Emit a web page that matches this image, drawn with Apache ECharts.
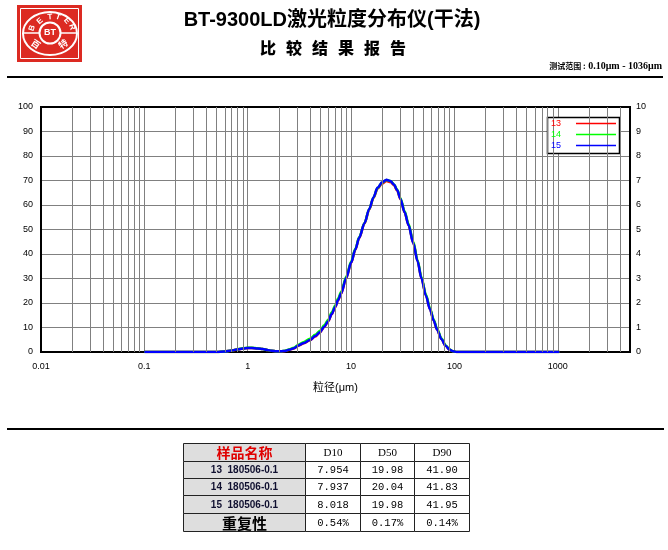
<!DOCTYPE html>
<html><head><meta charset="utf-8">
<script src="https://cdn.jsdelivr.net/npm/echarts@6/dist/echarts.min.js"></script>
<style>html,body{margin:0;padding:0;background:#fff}#c{width:668px;height:550px}</style>
</head><body><div id="c"></div>
<script>
// ---------- data ----------
const seriesNames = ['13', '14', '15'];
const seriesColors = ['#ff0000', '#00ff00', '#0000ff'];
const sizes = [0.1, 0.3, 0.5, 0.6, 0.7, 0.8, 0.9, 1.0, 1.1, 1.25,
  1.4, 1.55, 1.7, 1.9, 2.1, 2.3, 2.5, 2.8, 3.1, 3.5,
  4.0, 4.5, 5.0, 5.5, 6.0, 6.5, 7.0, 7.5, 8.0, 9.0,
  10, 11, 12, 13.5, 15, 16.5, 18, 20, 22, 24,
  26, 28, 30, 33, 36, 40, 44, 48, 53, 58,
  63, 68, 75, 82, 90, 97, 105, 120, 200, 500, 1036];
const s13 = [0, 0, 0, 0.2, 0.6, 1.0, 1.4, 1.6, 1.6, 1.4,
  1.2, 0.8, 0.5, 0.3, 0.25, 0.4, 0.85, 1.45, 2.6, 3.6,
  4.8, 6.3, 8.0, 10.2, 12.5, 15.4, 18.2, 21.1, 23.8, 30.2,
  36.3, 41.7, 46.6, 52.5, 58.2, 62.9, 66.6, 68.8, 69.8, 69.4,
  68.1, 65.8, 62.5, 57.0, 51.8, 44.6, 37.1, 30.1, 23.1, 17.5,
  12.9, 9.1, 5.2, 2.6, 0.9, 0.3, 0, 0, 0, 0, 0];
const s14 = [0, 0, 0, 0.2, 0.6, 1.1, 1.5, 1.7, 1.7, 1.5,
  1.2, 0.8, 0.5, 0.35, 0.3, 0.5, 1.0, 1.7, 3.0, 4.1,
  5.4, 7.0, 8.7, 10.9, 13.2, 16.1, 18.9, 21.8, 24.5, 30.8,
  36.8, 42.1, 46.9, 52.7, 58.4, 63.1, 66.9, 69.2, 70.2, 69.8,
  68.5, 66.2, 62.9, 57.4, 52.2, 45.0, 37.5, 30.5, 23.5, 17.9,
  13.3, 9.5, 5.5, 2.8, 1.0, 0.3, 0, 0, 0, 0, 0];
const s15 = [0, 0, 0, 0.2, 0.6, 1.1, 1.4, 1.6, 1.6, 1.4,
  1.2, 0.8, 0.5, 0.35, 0.3, 0.45, 0.9, 1.5, 2.7, 3.7,
  4.9, 6.5, 8.1, 10.3, 12.6, 15.5, 18.3, 21.2, 23.9, 30.3,
  36.4, 41.8, 46.7, 52.6, 58.4, 63.2, 67.0, 69.3, 70.3, 69.8,
  68.4, 66.0, 62.6, 57.0, 51.7, 44.5, 37.0, 30.0, 23.0, 17.4,
  12.9, 9.1, 5.2, 2.6, 0.9, 0.3, 0, 0, 0, 0, 0];
const seriesValues = [s13, s14, s15];

const titleText = 'BT-9300LD激光粒度分布仪(干法)';
const subTitleChars = ['比', '较', '结', '果', '报', '告'];
const rangeLabel = '测试范围 :';
const rangeValue = ' 0.10μm - 1036μm';
const xAxisName = '粒径(μm)';

const tableHeader = ['样品名称', 'D10', 'D50', 'D90'];
const sampleNames = ['13  180506-0.1', '14  180506-0.1', '15  180506-0.1'];
const d10 = ['7.954', '7.937', '8.018'];
const d50 = ['19.98', '20.04', '19.98'];
const d90 = ['41.90', '41.83', '41.95'];
const repeatLabel = '重复性';
const repeatVals = ['0.54%', '0.17%', '0.14%'];

// ---------- layout ----------
const G = {left: 41, top: 107, right: 630, bottom: 352};
const minorGrid = [];
for (let e = -2; e <= 3; e++) for (let m = 2; m <= 9; m++) {
  const v = +(m * Math.pow(10, e)).toPrecision(3);
  if (v < 5000) minorGrid.push(v);
}

const graphics = [];
// logo
const RED = '#dc2a22';
graphics.push({type: 'rect', shape: {x: 17, y: 5, width: 65, height: 57}, style: {fill: RED}});
graphics.push({type: 'rect', shape: {x: 20.5, y: 8.5, width: 58, height: 50}, style: {fill: null, stroke: '#fff', lineWidth: 1}});
graphics.push({type: 'ellipse', shape: {cx: 50, cy: 33.5, rx: 27, ry: 21.5}, style: {fill: null, stroke: '#fff', lineWidth: 2}});
graphics.push({type: 'circle', shape: {cx: 50, cy: 33, r: 10.5}, style: {fill: null, stroke: '#fff', lineWidth: 2}});
graphics.push({type: 'line', shape: {x1: 23, y1: 33, x2: 39.5, y2: 33}, style: {stroke: '#fff', lineWidth: 1.5}});
graphics.push({type: 'line', shape: {x1: 60.5, y1: 33, x2: 77, y2: 33}, style: {stroke: '#fff', lineWidth: 1.5}});
graphics.push({type: 'text', x: 50, y: 33, style: {text: 'BT', fill: '#fff', font: 'bold 9px "Liberation Sans"', align: 'center', verticalAlign: 'middle', textAlign: 'center', textVerticalAlign: 'middle'}});
const logoLetters = [['B', 32, 28, 72], ['E', 40, 21, 40], ['T', 50, 17, 5], ['T', 58, 17, -20], ['E', 67, 21, -50], ['R', 72, 27, -72]];
logoLetters.forEach(l => graphics.push({type: 'text', x: l[1], y: l[2], rotation: l[3] * Math.PI / 180,
  style: {text: l[0], fill: '#fff', font: 'bold 8px "Liberation Sans"', align: 'center', verticalAlign: 'middle', textAlign: 'center', textVerticalAlign: 'middle'}}));
graphics.push({type: 'text', x: 36, y: 44, rotation: -0.6, style: {text: '百', fill: '#fff', font: 'bold 9px "Noto Sans CJK SC"', align: 'center', verticalAlign: 'middle', textAlign: 'center', textVerticalAlign: 'middle'}});
graphics.push({type: 'text', x: 63, y: 44, rotation: 0.6, style: {text: '特', fill: '#fff', font: 'bold 9px "Noto Sans CJK SC"', align: 'center', verticalAlign: 'middle', textAlign: 'center', textVerticalAlign: 'middle'}});

// titles
graphics.push({type: 'text', x: 332, y: 20, style: {text: titleText, fill: '#000', font: 'bold 20px "Liberation Sans","Noto Sans CJK SC"', align: 'center', verticalAlign: 'middle', textAlign: 'center', textVerticalAlign: 'middle'}});
subTitleChars.forEach((c, i) => graphics.push({type: 'text', x: 268 + i * 26, y: 48,
  style: {text: c, fill: '#000', font: '900 16px "Noto Sans CJK SC"', align: 'center', verticalAlign: 'middle', textAlign: 'center', textVerticalAlign: 'middle'}}));
graphics.push({type: 'text', x: 662, y: 66, style: {text: '{a|' + rangeLabel + '}{b|' + rangeValue + '}', rich: {
  a: {font: 'bold 8px "Noto Sans CJK SC"', fill: '#000'},
  b: {font: 'bold 10px "Liberation Serif"', fill: '#000'}}, align: 'right', verticalAlign: 'middle', textAlign: 'right', textVerticalAlign: 'middle'}});
graphics.push({type: 'line', shape: {x1: 7, y1: 77, x2: 663, y2: 77}, style: {stroke: '#000', lineWidth: 2}});
graphics.push({type: 'line', shape: {x1: 7, y1: 429, x2: 664, y2: 429}, style: {stroke: '#000', lineWidth: 2}});

// plot frame (above gridlines, below curves)
graphics.push({type: 'rect', z: 1.5, shape: {x: G.left, y: G.top, width: G.right - G.left, height: G.bottom - G.top}, style: {fill: null, stroke: '#000', lineWidth: 2}});

// legend
graphics.push({type: 'rect', z: 5, shape: {x: 547.5, y: 117.5, width: 72, height: 36}, style: {fill: '#fff', stroke: '#000', lineWidth: 1.5}});
seriesNames.forEach((n, i) => {
  graphics.push({type: 'text', z: 6, x: 551, y: 123.5 + i * 11, style: {text: n, fill: seriesColors[i], font: '9px "Liberation Sans"', align: 'left', verticalAlign: 'middle', textAlign: 'left', textVerticalAlign: 'middle'}});
  graphics.push({type: 'line', z: 6, shape: {x1: 576, y1: 123.5 + i * 11, x2: 616, y2: 123.5 + i * 11}, style: {stroke: seriesColors[i], lineWidth: 1.5}});
});

// table
const colX = [183, 305, 360, 414, 469];
const rowY = [443, 461, 478, 495, 513, 531];
const rows = [tableHeader];
for (let i = 0; i < sampleNames.length; i++) rows.push([sampleNames[i], d10[i], d50[i], d90[i]]);
rows.push([repeatLabel].concat(repeatVals));
rows.forEach((row, r) => row.forEach((txt, c) => {
  const x = colX[c], y = rowY[r], w = colX[c + 1] - x, h = rowY[r + 1] - y;
  graphics.push({type: 'rect', shape: {x: x + 0.5, y: y + 0.5, width: w, height: h},
    style: {fill: c === 0 ? '#dedede' : '#fff', stroke: '#222', lineWidth: 1}});
  let font, fill = '#000';
  if (r === 0 && c === 0) { font = 'bold 14px "Noto Sans CJK SC"'; fill = '#e00000'; }
  else if (r === 0) { font = '11px "Liberation Serif"'; }
  else if (c === 0 && r === rows.length - 1) { font = 'bold 15px "Noto Sans CJK SC"'; }
  else if (c === 0) { font = 'bold 10px "Liberation Sans"'; fill = '#101030'; }
  else { font = '10.5px "Liberation Mono"'; }
  graphics.push({type: 'text', x: x + w / 2 + 0.5, y: y + h / 2 + 1, style: {text: txt, fill: fill, font: font,
    align: 'center', verticalAlign: 'middle', textAlign: 'center', textVerticalAlign: 'middle'}});
}));

const series = [{
  name: 'grid', type: 'line', z: 1, silent: true, symbol: 'none', data: [[0.01, 0]],
  lineStyle: {width: 0, opacity: 0},
  markLine: {silent: true, symbol: ['none', 'none'], label: {show: false}, animation: false,
    lineStyle: {color: '#808080', width: 1, type: 'solid'}, emphasis: {disabled: true},
    data: minorGrid.map(v => ({xAxis: v}))}
}];
seriesNames.forEach((n, i) => series.push({
  name: n, type: 'line', z: 2 + i, symbol: 'none', smooth: 0.3, smoothMonotone: 'x',
  lineStyle: {color: seriesColors[i], width: 2.5}, itemStyle: {color: seriesColors[i]},
  emphasis: {disabled: true},
  data: sizes.map((x, k) => [x, seriesValues[i][k]])
}));

const chart = echarts.init(document.getElementById('c'), null, {renderer: 'canvas'});
chart.setOption({
  animation: false,
  textStyle: {fontFamily: '"Liberation Sans","Noto Sans CJK SC",sans-serif'},
  grid: {left: G.left, top: G.top, right: 668 - G.right, bottom: 550 - G.bottom, show: false},
  xAxis: {
    type: 'log', logBase: 10, min: 0.01, max: 5000,
    name: xAxisName, nameLocation: 'middle', nameGap: 30,
    nameTextStyle: {fontSize: 11, color: '#000'},
    axisLine: {show: false}, axisTick: {show: false},
    axisLabel: {color: '#000', fontSize: 9, margin: 10, showMaxLabel: false,
      formatter: v => String(+Number(v).toPrecision(6))},
    splitLine: {show: true, lineStyle: {color: '#808080', width: 1}},
    minorSplitLine: {show: false}
  },
  yAxis: [{
    type: 'value', min: 0, max: 100, interval: 10, position: 'left',
    axisLine: {show: false}, axisTick: {show: false},
    axisLabel: {color: '#000', fontSize: 9, margin: 8},
    splitLine: {show: true, lineStyle: {color: '#808080', width: 1}}
  }, {
    type: 'value', min: 0, max: 10, interval: 1, position: 'right',
    axisLine: {show: false}, axisTick: {show: false},
    axisLabel: {color: '#000', fontSize: 9, margin: 6},
    splitLine: {show: false}
  }],
  graphic: {elements: graphics},
  series: series
});
</script>
</body></html>
